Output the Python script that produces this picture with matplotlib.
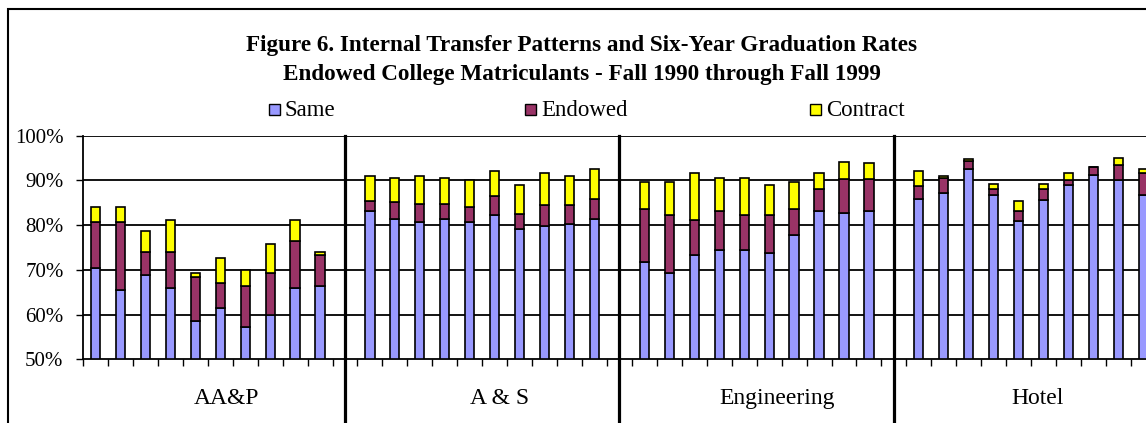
import matplotlib
matplotlib.use("Agg")
import matplotlib.pyplot as plt
import numpy as np
from matplotlib.patches import Rectangle

plt.rcParams['font.family'] = ['Liberation Serif', 'DejaVu Serif']

# колледжи и годы (Fall 1990 - Fall 1999)
colleges = ["AA&P", "A & S", "Engineering", "Hotel"]
years = list(range(1990, 2000))

# накопленные доли выпуска (%), верх каждого сегмента
same = [
    [70.4, 65.6, 68.8, 65.9, 58.5, 61.4, 57.3, 59.8, 65.9, 66.4],
    [83.2, 81.4, 80.7, 81.4, 80.7, 82.3, 79.1, 79.9, 80.3, 81.4],
    [71.7, 69.2, 73.3, 74.5, 74.5, 73.8, 77.8, 83.2, 82.7, 83.2],
    [85.9, 87.2, 92.6, 86.8, 81.0, 85.6, 88.9, 91.3, 90.1, 86.8],
]
same_endowed = [
    [80.7, 80.7, 74.1, 74.1, 68.3, 67.1, 66.4, 69.2, 76.5, 73.3],
    [85.3, 85.2, 84.7, 84.7, 84.0, 86.5, 82.6, 84.4, 84.4, 85.9],
    [83.5, 82.3, 81.1, 83.2, 82.3, 82.3, 83.5, 88.0, 90.4, 90.4],
    [88.7, 90.5, 94.4, 88.0, 83.2, 88.0, 90.1, 92.9, 93.5, 91.7],
]
total = [
    [84.0, 84.0, 78.7, 81.1, 69.2, 72.6, 70.0, 75.7, 81.1, 74.1],
    [90.9, 90.5, 90.9, 90.5, 90.1, 92.2, 88.9, 91.7, 90.9, 92.6],
    [89.7, 89.7, 91.7, 90.5, 90.5, 88.9, 89.7, 91.7, 94.2, 93.8],
    [92.1, 90.9, 94.9, 89.3, 85.3, 89.3, 91.7, 93.0, 95.0, 92.6],
]
yticks = [50, 60, 70, 80, 90, 100]

colors = {"Same": "#9999FF", "Endowed": "#993366", "Contract": "#FFFF00"}
base = 50


def main():
    W, H, dpi = 1146, 423, 100
    fig = plt.figure(figsize=(W / dpi, H / dpi), dpi=dpi)
    px = 24.95  # пикселей на одну категорию
    left, bottom, top = 83, 359.3, 135.7
    ax = fig.add_axes([left / W, (H - bottom) / H, 43.5 * px / W, (bottom - top) / H])

    n_slot = len(years) + 1
    label_shift = [0.75, 0.7, 0.8, 0.25]  # подписи у Excel сдвинуты вправо
    for g in range(len(colleges)):
        x = np.arange(len(years)) + g * n_slot + 1
        s = np.array(same[g])
        e = np.array(same_endowed[g])
        t = np.array(total[g])
        kw = dict(width=0.37, edgecolor='black', linewidth=1.2, zorder=3)
        ax.bar(x, s - base, bottom=base, color=colors["Same"], **kw)
        ax.bar(x, e - s, bottom=s, color=colors["Endowed"], **kw)
        ax.bar(x, t - e, bottom=e, color=colors["Contract"], **kw)
        ax.text(g * n_slot + 5.5 + label_shift[g], -0.175, colleges[g],
                transform=ax.get_xaxis_transform(), ha='center', va='center', fontsize=17)

    # разделители между колледжами
    for g in range(1, len(colleges)):
        ax.axvline(g * n_slot, ymin=-0.3, ymax=1, color='black', linewidth=2.3,
                   clip_on=False, zorder=4)

    for y in yticks[1:]:
        ax.axhline(y, color='black', linewidth=1.3, zorder=1)

    ax.set_xlim(0.5, 44)
    ax.set_ylim(50, 100)
    ax.set_yticks(yticks)
    ax.set_yticklabels([f"{v}%" for v in yticks])
    ax.set_xticks([g * n_slot + k + 0.5 for g in range(len(colleges)) for k in range(len(years) + 1)])
    ax.set_xticklabels([])
    ax.tick_params(axis='y', direction='out', length=5, width=1, pad=9, labelsize=15)
    ax.tick_params(axis='x', direction='out', length=5, width=1)
    for side in ['top', 'right']:
        ax.spines[side].set_visible(False)
    ax.spines['left'].set_linewidth(1.3)
    ax.spines['bottom'].set_linewidth(1.3)

    # заголовок
    fig.text(582 / W, (H - 51) / H, "Figure 6. Internal Transfer Patterns and Six-Year Graduation Rates",
             ha='center', va='baseline', fontsize=16.7, fontweight='bold')
    fig.text(582 / W, (H - 80) / H, "Endowed College Matriculants - Fall 1990 through Fall 1999",
             ha='center', va='baseline', fontsize=16.7, fontweight='bold')

    # легенда
    for name, sx in [("Same", 269), ("Endowed", 525), ("Contract", 810)]:
        fig.add_artist(Rectangle((sx / W, (H - 115) / H), 11 / W, 11 / H, transform=fig.transFigure,
                                 facecolor=colors[name], edgecolor='black', linewidth=1))
        fig.text((sx + 16) / W, (H - 110) / H, name, ha='left', va='center', fontsize=16.5)

    # рамка
    fig.add_artist(Rectangle((8 / W, -0.1), 1.2, (H - 9) / H + 0.1, transform=fig.transFigure,
                             fill=False, edgecolor='black', linewidth=1.5))

    fig.savefig("out.png", dpi=dpi)


if __name__ == '__main__':
    main()
